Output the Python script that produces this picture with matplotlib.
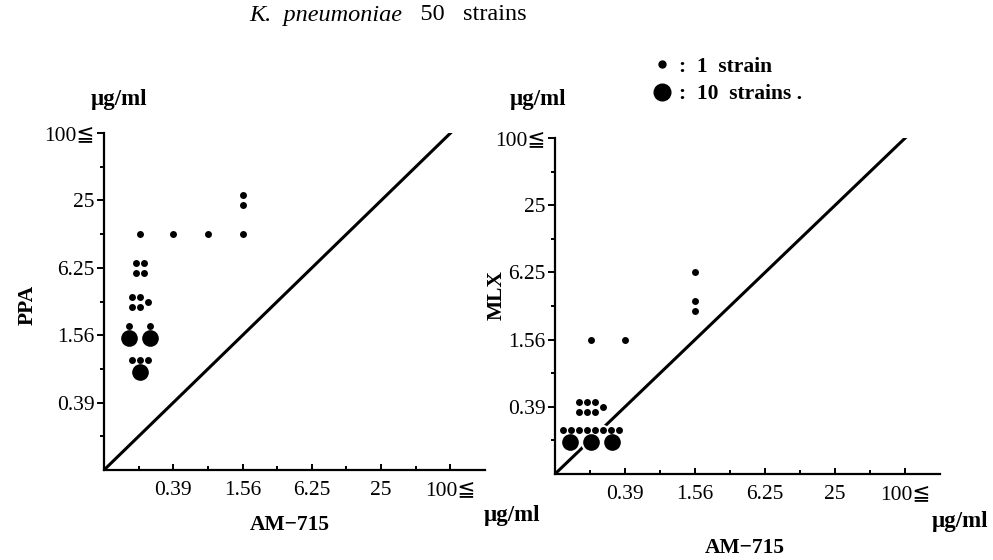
import matplotlib
matplotlib.use("Agg")
import matplotlib.pyplot as plt
import numpy as np
from matplotlib.lines import Line2D
from matplotlib.ticker import FixedLocator, NullFormatter
from matplotlib.transforms import offset_copy

plt.rcParams["font.family"] = ["Liberation Serif", "DejaVu Sans"]

BASE = 0.0975  # lowest dilution, sits on the origin
TICK_VALUES = [0.39, 1.56, 6.25, 25, 100]
TICK_LABELS = ["0.39", "1.56", "6.25", "25", "100≦"]

# PPA vs AM-715: MIC of AM-715, MIC of PPA, number of strains in the cell
ppa_x = [0.2, 0.2, 0.2, 0.2, 0.2, 0.39, 0.78, 1.56, 1.56]
ppa_y = [0.78, 1.56, 3.12, 6.25, 12.5, 12.5, 12.5, 12.5, 25]
ppa_n = [13, 22, 5, 4, 1, 1, 1, 1, 2]

# MLX vs AM-715
mlx_x = [0.2, 0.2, 0.2, 0.39, 1.56, 1.56]
mlx_y = [0.2, 0.39, 1.56, 1.56, 3.12, 6.25]
mlx_n = [38, 7, 1, 1, 2, 1]

PX = 0.72  # points per pixel at dpi 100
SMALL_DX, SMALL_DY, BIG_DX = 8, 10, 21
FS = 15.5


def cluster(n):
    """Offsets (px) of the dots for one cell: big dot = 10 strains, small = 1."""
    big, small = divmod(n, 10)
    dots = []
    if big:
        for x in (np.arange(big) - (big - 1) / 2) * BIG_DX:
            dots.append((x, -3, True))
        if small:
            span = max(SMALL_DX * (small - 1), BIG_DX * (big - 1))
            xs = np.linspace(-span / 2, span / 2, small) if small > 1 else [0]
            dots += [(x, 9, False) for x in xs]
        return dots
    if small == 1:
        return [(0, 0, False)]
    cols, extra = divmod(small, 2)
    x0 = -((cols - 1) * SMALL_DX + extra * SMALL_DX) / 2
    for c in range(cols):
        for r in (0, 1):
            dots.append((x0 + c * SMALL_DX, (0.5 - r) * SMALL_DY, False))
    if extra:
        dots.append((x0 + cols * SMALL_DX, 0, False))
    return dots


def draw_panel(fig, ax, xs, ys, ns):
    ax.plot([BASE, 100], [BASE, 100], color="black", lw=2.2, zorder=2)
    for x, y, n in zip(xs, ys, ns):
        for dx, dy, big in cluster(n):
            tr = offset_copy(ax.transData, fig=fig, x=dx * PX, y=dy * PX, units="points")
            ms = 12 if big else 5
            ax.plot([x], [y], "o", ms=ms + 3, color="white", mec="none", transform=tr, zorder=3)
            ax.plot([x], [y], "o", ms=ms, color="black", mec="none", transform=tr, zorder=4)

    ax.set_xscale("log", base=2)
    ax.set_yscale("log", base=2)
    ax.set_xlim(BASE, BASE * 2 ** 11)
    ax.set_ylim(BASE, 100.2)
    minor = [BASE * 2 ** u for u in (1, 3, 5, 7, 9)]
    for axis in (ax.xaxis, ax.yaxis):
        axis.set_major_locator(FixedLocator(TICK_VALUES))
        axis.set_minor_locator(FixedLocator(minor))
        axis.set_minor_formatter(NullFormatter())
    ax.set_xticklabels(TICK_LABELS)
    ax.set_yticklabels(TICK_LABELS)
    for side in ("top", "right"):
        ax.spines[side].set_visible(False)
    for side in ("left", "bottom"):
        ax.spines[side].set_linewidth(1.6)
    ax.tick_params(axis="x", which="major", direction="in", length=4, width=1.4, pad=8, labelsize=FS)
    ax.tick_params(axis="x", which="minor", direction="in", length=3, width=1.4)
    ax.tick_params(axis="y", which="major", direction="out", length=5, width=1.4, pad=2, labelsize=FS)
    ax.tick_params(axis="y", which="minor", direction="out", length=3, width=1.4)
    ax.set_facecolor("none")


fig = plt.figure(figsize=(9.93, 5.6), dpi=100)
ax1 = fig.add_axes([104 / 993, 1 - 470 / 560, 381 / 993, 337 / 560])
ax2 = fig.add_axes([555 / 993, 1 - 474 / 560, 385 / 993, 336 / 560])
draw_panel(fig, ax1, ppa_x, ppa_y, ppa_n)
draw_panel(fig, ax2, mlx_x, mlx_y, mlx_n)


def ftext(x, y, s, **kw):
    kw.setdefault("fontsize", FS)
    fig.text(x / 993, 1 - y / 560, s, ha=kw.pop("ha", "center"), va=kw.pop("va", "center"), **kw)


ftext(402, 15, "K.  pneumoniae", ha="right", style="italic", fontsize=17.5)
ftext(402, 15, "   50   strains", ha="left", fontsize=17.5)
ftext(119, 100, "µg/ml", fontweight="bold", fontsize=16.5)
ftext(538, 100, "µg/ml", fontweight="bold", fontsize=16.5)
ftext(512, 516, "µg/ml", fontweight="bold", fontsize=16.5)
ftext(960, 521, "µg/ml", fontweight="bold", fontsize=16.5)
ftext(290, 525, "AM−715", fontweight="bold")
ftext(745, 548, "AM−715", fontweight="bold")
ftext(28, 305, "PPA", rotation=90, fontweight="bold")
ftext(497, 295, "MLX", rotation=90, fontweight="bold")

handles = [
    Line2D([], [], marker="o", ls="", color="black", ms=5),
    Line2D([], [], marker="o", ls="", color="black", ms=12),
]
fig.legend(handles, [":  1  strain", ":  10  strains ."], loc="upper left",
           bbox_to_anchor=(640 / 993, 1 - 46 / 560), frameon=False, borderpad=0,
           handlelength=1.0, handletextpad=0.3, labelspacing=0.35,
           prop={"size": FS, "weight": "bold"})

fig.savefig("out.png", dpi=100, facecolor="white")
